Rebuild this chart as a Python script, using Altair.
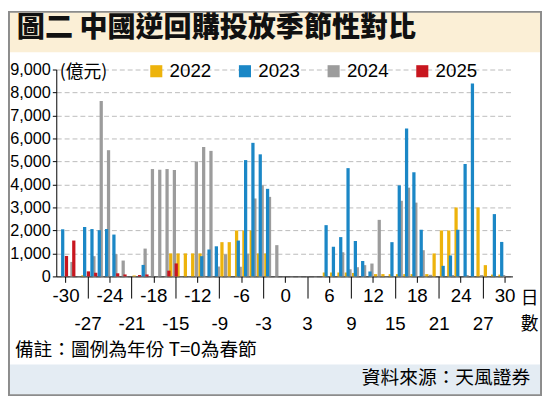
import altair as alt
import pandas as pd

# ---------------- data ----------------
DAYS = [-30, -29, -28, -27, -26, -25, -24, -23, -22, -21,
        -20, -19, -18, -17, -16, -15, -14, -13, -12, -11,
        -10, -9, -8, -7, -6, -5, -4, -3, -2, -1,
        0, 1, 2, 3, 4, 5, 6, 7, 8, 9,
        10, 11, 12, 13, 14, 15, 16, 17, 18, 19,
        20, 21, 22, 23, 24, 25, 26, 27, 28, 29,
        30]

TICK_DAYS = [-30, -27, -24, -21, -18, -15, -12, -9, -6, -3, 0,
             3, 6, 9, 12, 15, 18, 21, 24, 27, 30]
Y_TICKS = [0, 1000, 2000, 3000, 4000, 5000, 6000, 7000, 8000, 9000]

YEARS = ["2022", "2023", "2024", "2025"]
COLORS = ["#EDB30C", "#1B87C6", "#9C9C9C", "#C8161F"]

V2022 = [0, 0, 50, 0, 0, 0, 0, 0, 0, 40,
         0, 0, 0, 0, 1000, 1000, 1000, 1000, 1000, 0,
         0, 1490, 1490, 2000, 2000, 2000, 1000, 1000, 0, 0,
         0, 0, 0, 0, 0, 170, 170, 170, 170, 150,
         0, 0, 100, 100, 100, 100, 100, 100, 0, 100,
         1000, 2000, 2000, 3000, 0, 0, 3000, 490, 80, 80,
         0]
V2023 = [2050, 0, 0, 2150, 2060, 2010, 2060, 1820, 0, 0,
         0, 500, 0, 0, 0, 0, 0, 0, 0, 880,
         1170, 1310, 0, 0, 1560, 5060, 5810, 5310, 3810, 0,
         0, 0, 0, 0, 0, 0, 2230, 1290, 1710, 4710,
         1540, 670, 215, 0, 0, 1490, 3960, 6430, 4530, 2030,
         0, 0, 460, 910, 2030, 4890, 8390, 0, 0, 2710,
         1500]
V2024 = [0, 630, 0, 0, 880, 7630, 5490, 970, 690, 0,
         0, 1210, 4670, 4640, 4670, 4630, 0, 0, 5000, 5630,
         5460, 430, 960, 0, 420, 990, 3390, 3960, 3460, 1360,
         0, 0, 0, 0, 0, 0, 0, 0, 1050, 310,
         400, 490, 560, 2460, 0, 0, 3290, 3860, 3210, 1140,
         70, 0, 0, 60, 0, 60, 0, 60, 0, 0,
         60]
V2025 = [890, 1560, 0, 220, 160, 0, 0, 135, 85, 0,
         60, 85, 0, 0, 250, 565, 0, 0, 0, 0,
         0, 0, 0, 0, 0, 0, 0, 0, 0, 0,
         0, 0, 0, 0, 0, 0, 0, 0, 0, 0,
         0, 0, 0, 0, 0, 0, 0, 0, 0, 0,
         0, 0, 0, 0, 0, 0, 0, 0, 0, 0,
         0]

TITLE = "圖二 中國逆回購投放季節性對比"
NOTE = "備註：圖例為年份 T=0為春節"
SOURCE = "資料來源：天風證券"

# draw order: blue last so it sits on top where bars touch
rows = []
for yr, vals in [("2022", V2022), ("2024", V2024), ("2025", V2025), ("2023", V2023)]:
    for d, v in zip(DAYS, vals):
        if v > 0:
            rows.append({"day": d, "year": yr, "value": v})
df = pd.DataFrame(rows)

SANS = "Liberation Sans, Arial, sans-serif"
CJK = "Noto Sans CJK TC, Noto Sans CJK SC, sans-serif"

PW, PH = 463, 210
one = pd.DataFrame({"k": [0]})

title_band = alt.Chart(one).mark_rect(color="#FBEFD6").encode(
    x=alt.value(-49), x2=alt.value(493), y=alt.value(-59.5), y2=alt.value(-17.5))
foot_band = alt.Chart(one).mark_rect(color="#E4ECF3").encode(
    x=alt.value(-49), x2=alt.value(493), y=alt.value(299.5), y2=alt.value(330.5))
frame = alt.Chart(one).mark_rect(fill="transparent", stroke="#8C8C8C", strokeWidth=2).encode(
    x=alt.value(-48), x2=alt.value(492), y=alt.value(-58.5), y2=alt.value(330.5))

bars = alt.Chart(df).transform_calculate(
    xpos="datum.day + (datum.year == '2023' ? -0.395 : datum.year == '2024' ? -0.13 : datum.year == '2025' ? 0.12 : 0.37)"
).mark_bar(width=3.3).encode(
    x=alt.X("xpos:Q",
            scale=alt.Scale(domain=[-30.6, 30.4], nice=False, zero=False),
            title=["日", "數"],
            axis=alt.Axis(values=TICK_DAYS, labelExpr="'' + datum.value",
                          grid=False, domainColor="#000", tickColor="#000",
                          labelColor="#000", labelFont=SANS, labelFontSize=19,
                          labelOverlap=False, labelFlush=False, labelBound=False,
                          tickSize={"condition": {"test": "datum.value % 6 == 0", "value": 6}, "value": 22},
                          labelPadding={"condition": {"test": "datum.value % 6 == 0", "value": 4}, "value": 17},
                          titleX=471, titleY=14, titleAlign="left", titleBaseline="top",
                          titleFont=CJK, titleFontSize=18, titleFontWeight="normal",
                          titleColor="#000", titleLineHeight=26)),
    y=alt.Y("value:Q",
            scale=alt.Scale(domain=[0, 9000], nice=False),
            stack=None,
            title="(億元)",
            axis=alt.Axis(values=Y_TICKS, labelExpr="format(datum.value, ',.0f')",
                          domainColor="#000", tickColor="#000",
                          tickSize=4, labelPadding=2, labelColor="#000",
                          labelFont=SANS, labelFontSize=16.5,
                          gridColor="#BBBBBB", gridDash=[5, 3], gridWidth=1,
                          titleAngle=0, titleAlign="left", titleBaseline="middle",
                          titleX=3, titleY=3, titleFont=CJK, titleFontSize=18,
                          titleFontWeight="normal", titleColor="#000")),
    color=alt.Color("year:N", scale=alt.Scale(domain=YEARS, range=COLORS),
                    legend=alt.Legend(orient="none", legendX=92, legendY=-8,
                                      direction="horizontal", columns=4, gridAlign="all",
                                      title=None,
                                      symbolType="square", symbolSize=150,
                                      symbolStrokeWidth=0, symbolOpacity=1,
                                      labelFont=SANS,
                                      labelFontSize=19, labelColor="#000",
                                      labelOffset=4, columnPadding=24, padding=0)),
)

title_txt = alt.Chart(one).mark_text(
    font=CJK, fontSize=28.5, fontWeight=900, align="left", baseline="middle", color="#111"
).encode(x=alt.value(-40), y=alt.value(-42.5), text=alt.value(TITLE))
note_txt = alt.Chart(one).mark_text(
    font=CJK, fontSize=19, align="left", baseline="middle", color="#000"
).encode(x=alt.value(-42), y=alt.value(284.5), text=alt.value(NOTE))
src_txt = alt.Chart(one).mark_text(
    font=CJK, fontSize=19, align="right", baseline="middle", color="#000"
).encode(x=alt.value(481), y=alt.value(313), text=alt.value(SOURCE))

chart = alt.layer(title_band, foot_band, frame, bars, title_txt, note_txt, src_txt).properties(
    width=PW, height=PH,
    padding={"left": 49, "top": 59.5, "right": 30, "bottom": 121.5},
    autosize=alt.AutoSizeParams(type="none"),
    background="white",
).configure_view(stroke=None)

chart.save("out.html", embed_options={"renderer": "svg", "actions": False})
